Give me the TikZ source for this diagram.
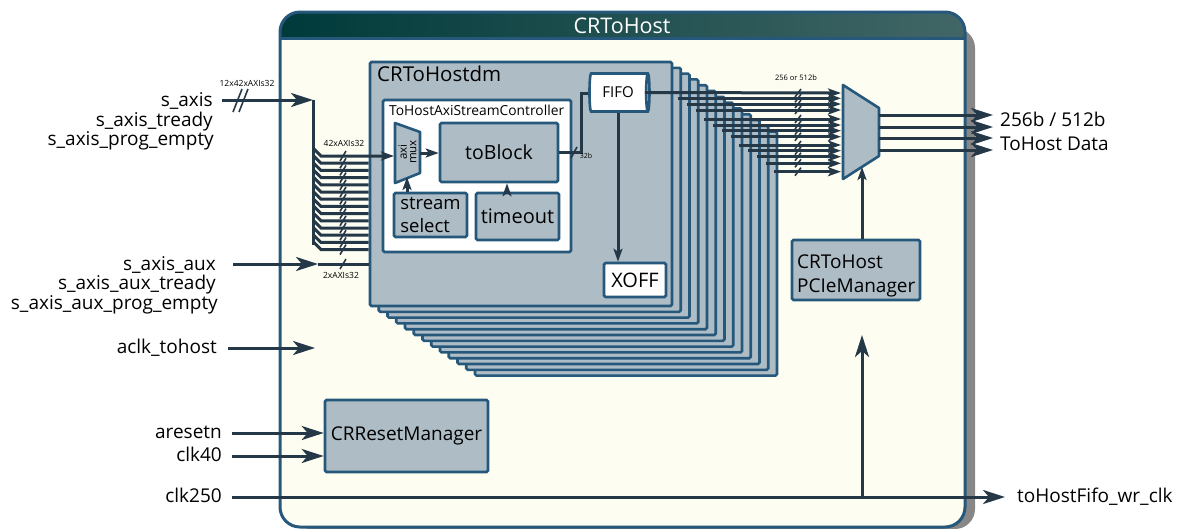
\documentclass[tikz,border=0pt]{standalone}
\usepackage{fontspec}
\setmainfont{Open Sans}
\usetikzlibrary{arrows.meta,shapes.geometric}
\definecolor{bordc}{RGB}{38,88,124}
\definecolor{wirec}{RGB}{37,56,72}
\definecolor{boxc}{RGB}{174,188,197}
\definecolor{creamc}{RGB}{253,253,242}
\definecolor{hdrl}{RGB}{0,58,58}
\definecolor{hdrr}{RGB}{66,102,102}
\definecolor{shadc}{RGB}{135,135,135}
\begin{document}
\begin{tikzpicture}[x=1pt,y=-1pt,
  wire/.style={draw=wirec,line width=3pt},
  bigarrow/.style={wire,-{Stealth[length=22pt,width=14pt,inset=6pt]}},
  midarrow/.style={wire,-{Stealth[length=13pt,width=9pt,inset=3pt]}},
  slash/.style={draw=wirec,line width=1.6pt},
  blk/.style={draw=bordc,fill=boxc,line width=2.6pt,rounded corners=1.5pt,inner sep=0pt},
  wblk/.style={blk,fill=white},
  f16/.style={font=\fontsize{19}{24}\selectfont},
  f17/.style={font=\fontsize{20}{24}\selectfont},
  tiny/.style={font=\fontsize{8.5}{9}\selectfont,inner sep=0pt},
  lbl/.style={f16,anchor=base east,inner sep=0pt,text=black},
  rlbl/.style={f16,anchor=base west,inner sep=0pt,text=black},
]
\useasboundingbox (0,0) rectangle (1190,528);

% outer block with shadow and title band
\fill[shadc,rounded corners=20pt] (291,28) rectangle (975,529);
\begin{scope}
  \clip[rounded corners=20pt] (280,12) rectangle (965,527);
  \fill[creamc] (280,12) rectangle (965,527);
  \shade[left color=hdrl,right color=hdrr] (280,12) rectangle (965,38);
\end{scope}
\draw[bordc,line width=3pt] (280,38) -- (965,38);
\draw[bordc,line width=3pt,rounded corners=20pt] (280,12) rectangle (965,527);
\node[text=white,font=\fontsize{21.5}{22}\selectfont,inner sep=0pt] (title) at (622,26) {CRToHost};

% stacked CRToHostdm instances, back to front
\foreach \k in {12,11,...,1}
  \node[blk,minimum width=302pt,minimum height=244pt] (dm\k) at (521+8.75*\k,184+5.8*\k) {};
\node[blk,minimum width=302pt,minimum height=244pt] (dm0) at (521,184) {};
\node[f17,font=\fontsize{20.5}{24}\selectfont,anchor=north west,inner sep=0pt] (dmtitle) at (377,66) {CRToHostdm};

% stream controller
\node[wblk,minimum width=188pt,minimum height=152pt] (ctrl) at (477,176) {};
\node[anchor=north west,font=\fontsize{13.8}{15}\selectfont,inner sep=0pt] (ctrltitle) at (389,105) {ToHostAxiStreamController};

% axi mux
\draw[draw=bordc,fill=boxc,line width=2.6pt,line join=round] (395,123) -- (420,132) -- (420,173) -- (395,183) -- cycle;
\node[rotate=90,align=center,font=\fontsize{11.5}{9.5}\selectfont,inner sep=0pt] (axitext) at (407.5,152) {axi\\mux};
\coordinate (axin) at (394,156);
\coordinate (axout) at (420,153);
\coordinate (axbot) at (407,177);

\node[blk,font=\fontsize{19.5}{24}\selectfont,minimum width=118pt,minimum height=59pt] (toblock) at (499,152.5) {toBlock};
\node[blk,align=left,minimum width=73pt,minimum height=44pt,font=\fontsize{18.5}{23}\selectfont] (ssel) at (430.5,215) {stream\\select};
\node[blk,font=\fontsize{20}{24}\selectfont,minimum width=83pt,minimum height=47pt] (tmo) at (517.5,216.5) {timeout};

\node[cylinder,draw=bordc,fill=white,line width=2.6pt,minimum height=60pt,minimum width=38pt,shape aspect=0.3,inner sep=0pt,font=\fontsize{15}{16}\selectfont] (fifo) at (618,92.5) {FIFO};
\node[wblk,font=\fontsize{20}{24}\selectfont,minimum width=62pt,minimum height=34pt] (xoff) at (635,280) {XOFF};

\draw[midarrow] (axout) -- (toblock.west |- axout);
\draw[midarrow] (axbot |- ssel.north) -- (axbot);
\draw[midarrow] (tmo.north -| 507,0) -- (toblock.south -| 507,0);
\draw[wire] (toblock.east) -- (581,152.5) -- (581,93) -- (fifo.west |- 0,93);
\draw[slash] (571,158) -- (577,147);
\node[tiny,font=\fontsize{7}{8}\selectfont] (w32) at (586,156) {32b};
\draw[midarrow] (fifo.south) -- (fifo.south |- xoff.north);

% output multiplexer
\draw[draw=bordc,fill=boxc,line width=2.6pt,line join=round] (843,85) -- (879,108) -- (879,156) -- (843,179) -- cycle;
\coordinate (omuxbot) at (862,167);

% fifo outputs of all instances
\draw[midarrow] ([xshift=-6pt]fifo.east) -- (841,93);
\draw[slash] (795,97) -- (801,89);
\foreach \y [count=\i] in {98.3,104,110,119,125,130.7,136.7,145,150.7,156.7,163.3,171.7} {
  \draw[midarrow] (669.25+8.75*\i,\y) -- (841,\y);
  \draw[slash] (795,\y+4) -- (801,\y-4);
}
\node[tiny,font=\fontsize{7.5}{8}\selectfont] (wout) at (796,78) {256 or 512b};

\foreach \y in {115,127,138,150}
  \draw[bigarrow] (879,\y) -- (993,\y);
\node[rlbl] (odata1) at (1000,126.5) {256b / 512b};
\node[rlbl] (odata2) at (1000,150.5) {ToHost Data};

% PCIe manager
\node[blk,minimum width=128pt,minimum height=60pt] (pcie) at (856,270) {};
\node[f16,align=left,anchor=north west,inner sep=0pt] (pcietxt) at (797,255) {CRToHost\\PCIeManager};
\draw[midarrow] (omuxbot |- pcie.north) -- (omuxbot);

% reset manager
\node[blk,f16,minimum width=163pt,minimum height=72pt] (rst) at (406.5,436) {CRResetManager};

% inputs
\node[lbl] (l1) at (213,106.5) {s\_axis};
\node[lbl] (l2) at (213,126) {s\_axis\_tready};
\node[lbl] (l3) at (214,145.5) {s\_axis\_prog\_empty};
\node[lbl] (l4) at (216,270) {s\_axis\_aux};
\node[lbl] (l5) at (216,289.5) {s\_axis\_aux\_tready};
\node[lbl] (l6) at (218,309) {s\_axis\_aux\_prog\_empty};
\node[lbl] (l7) at (217,353.5) {aclk\_tohost};
\node[lbl] (l8) at (222,438.5) {aresetn};
\node[lbl] (l9) at (222,461.5) {clk40};
\node[lbl] (l10) at (222,502.5) {clk250};
\node[rlbl] (l11) at (1017,502.5) {toHostFifo\_wr\_clk};

\coordinate (saxis) at (222,100);
\coordinate (sbus) at (313,100);
\coordinate (saux) at (233,264);
\coordinate (sauxend) at (318,264);
\coordinate (aclk) at (228,348);
\coordinate (aclkend) at (315,348);
\coordinate (arst) at (232,433);
\coordinate (c40) at (232,456);
\coordinate (c250) at (232,497);
\coordinate (c250end) at (1005,497);
\coordinate (c250tap) at (862,497);
\coordinate (c250up) at (862,335);

\draw[wire] (sbus) -- (313,245);
\draw[bigarrow] (saxis) -- (sbus);
\draw[slash] (233,112) -- (242,89);
\draw[slash] (239,112) -- (248,89);
\node[tiny] (win) at (247,83) {12x42xAXIs32};

\draw[midarrow] (313,148) -- (321,156) -- (axin);
\draw[slash] (340,161) -- (346,151);
\foreach \i in {1,...,13} {
  \draw[wire] (313,148+7.2*\i) -- (321,156+7.2*\i) -- (dm0.west |- 0,156+7.2*\i);
  \draw[slash] (340,161+7.2*\i) -- (346,151+7.2*\i);
}
\node[tiny] (wfan) at (344,143) {42xAXIs32};

\draw[wire] (sauxend) -- (dm0.west |- sauxend);
\draw[bigarrow] (saux) -- (sauxend);
\draw[slash] (340,269) -- (346,259);
\node[tiny] (waux) at (341,275) {2xAXIs32};

\draw[bigarrow] (aclk) -- (aclkend);
\draw[bigarrow] (arst) -- (rst.west |- arst);
\draw[bigarrow] (c40) -- (rst.west |- c40);
\draw[bigarrow] (c250) -- (c250end);
\draw[bigarrow] (c250tap) -- (c250up);
\end{tikzpicture}
\end{document}
